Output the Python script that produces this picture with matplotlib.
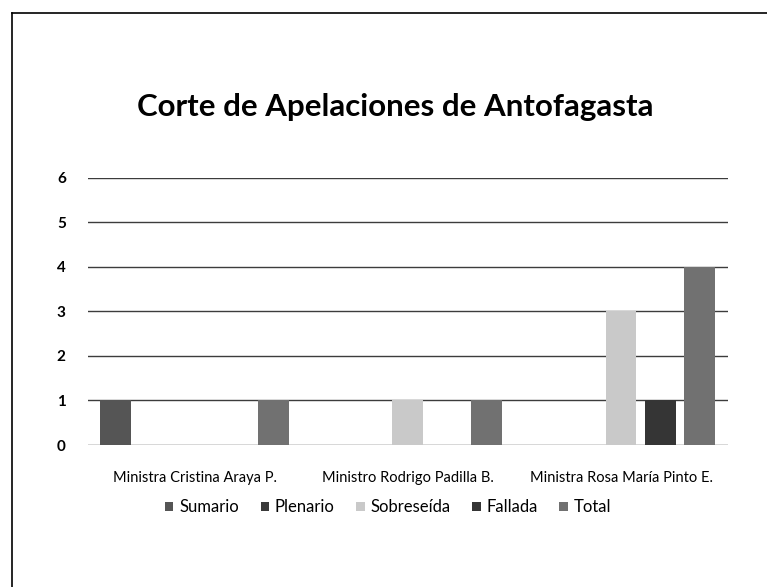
import matplotlib.pyplot as plt
import numpy as np
from matplotlib.lines import Line2D

# Data
categories = ['Ministra Cristina Araya P.', 'Ministro Rodrigo Padilla B.', 'Ministra Rosa María Pinto E.']
series = ['Sumario', 'Plenario', 'Sobreseída', 'Fallada', 'Total']
sumario = [1, 0, 0]
plenario = [0, 0, 0]
sobreseida = [0, 1, 3]
fallada = [0, 0, 1]
total = [1, 1, 4]
values = [sumario, plenario, sobreseida, fallada, total]
colors = ['#555555', '#3a3a3a', '#c9c9c9', '#353535', '#717171']

plt.rcParams['font.family'] = ['Lato', 'DejaVu Sans']

fig = plt.figure(figsize=(7.67, 5.87), dpi=100)
ax = fig.add_axes([0.1147, 0.2419, 0.834, 0.455])

x = np.arange(len(categories))
pitch = 0.185
width = 0.145
for i, (name, vals, c) in enumerate(zip(series, values, colors)):
    ax.bar(x + (i - 2) * pitch, vals, width, color=c, label=name, zorder=3)

ax.set_xlim(-0.5, 2.5)
ax.set_ylim(0, 6)
ax.set_yticks(range(0, 7))
ax.yaxis.grid(True, color='#3c3c3c', linewidth=1.0, zorder=0)
for s in ax.spines.values():
    s.set_visible(False)
ax.tick_params(axis='both', length=0)
ax.tick_params(axis='y', pad=16, labelsize=11)
ax.set_yticklabels([str(v) for v in range(0, 7)], fontweight='bold')
ax.set_xticks(x)
ax.set_xticklabels(categories, fontsize=10.5)
ax.tick_params(axis='x', pad=19)

fig.text(0.515, 0.8024, 'Corte de Apelaciones de Antofagasta', ha='center', va='baseline',
         fontsize=22.5, fontweight='bold')

fig.legend(loc='center', bbox_to_anchor=(0.506, 0.136), ncol=5, frameon=False,
           fontsize=12, handlelength=0.5, handleheight=0.5, handletextpad=0.35,
           columnspacing=1.3)

# page frame of the scanned chart
fig.add_artist(Line2D([0.016, 0.016], [0.0, 0.978], color='black', linewidth=1.2))
fig.add_artist(Line2D([0.016, 1.0], [0.978, 0.978], color='black', linewidth=1.2))

plt.savefig('out.png', dpi=100)
